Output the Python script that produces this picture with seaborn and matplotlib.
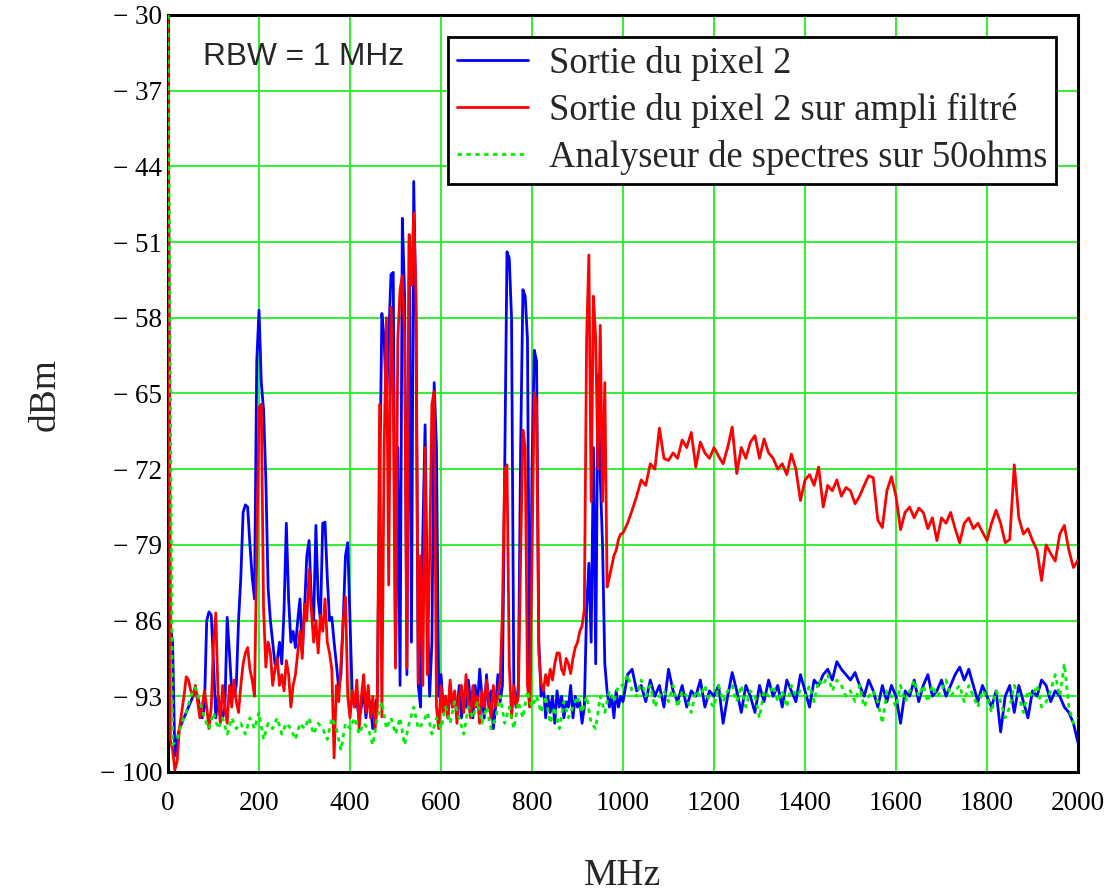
import numpy as np
import pandas as pd
import seaborn as sns
import matplotlib
matplotlib.use("Agg")
import matplotlib.pyplot as plt

# spectra, dBm
# 0..995 MHz in 5 MHz steps
blue_lo = [
    -30, -86.5, -88, -98.5, -97, -96, -95.5, -95, -94.5, -94,
    -93.5, -93, -92.5, -93, -94, -95, -94, -86, -85.2, -85.5,
    -90, -95, -93, -94, -95, -94, -85.7, -89, -92.5, -93,
    -92, -86, -82, -76, -75.3, -75.5, -79, -82, -84, -62,
    -57.3, -64, -66.5, -73, -83, -86, -88, -90, -89.7, -88,
    -90, -85, -77, -84, -88, -87, -88.5, -86, -84, -89,
    -85, -80, -78.6, -84, -86, -77.2, -84, -86, -77, -76.9,
    -82, -86, -85.7, -88, -90, -92.2, -91, -86, -80, -78.8,
    -86, -93.1, -94, -93.5, -95, -94, -92.5, -95, -93, -94,
    -96, -94, -93, -74, -57.6, -60, -66, -60, -54, -53.8,
    -90, -70, -92, -48.8, -56, -91, -50.8, -88, -45.4, -58,
    -92, -94, -78, -67.9, -85, -93, -88, -64, -70, -93,
    -91, -94, -93, -95, -92, -94, -93, -94.5, -92, -95,
    -93, -94, -91.5, -93.5, -95, -92, -94, -90.5, -93, -95,
    -91, -94, -92.5, -96, -94, -91, -93.5, -92, -72, -51.9,
    -52.5, -58, -92, -94, -92, -70, -55.4, -56, -60, -93,
    -72, -61, -62, -88, -93, -92, -95, -93, -94.5, -93,
    -95.5, -92.5, -94, -93, -95, -93.5, -94, -92, -95, -93,
    -94, -93.5, -95.5, -94, -85, -80.7, -88, -70, -90, -63.3,
    -72.7, -79, -90, -92.5, -94, -93, -95, -92.5, -94, -93,
]
red_lo = [
    -30, -97, -98, -99.8, -99, -96, -94.5, -93, -91.2, -91.5,
    -92.5, -93, -92, -93.5, -95, -94, -92.5, -94, -96, -94,
    -88, -85.3, -93, -95.5, -92, -94, -95.5, -92, -94, -91.5,
    -93.5, -94.5, -92, -90, -89, -88.5, -90.5, -91.5, -93, -80,
    -66.3, -66, -85, -90.3, -88, -89, -92, -90.5, -89.5, -92,
    -91, -92.5, -89.7, -91, -94, -92, -91, -89, -87, -89.5,
    -84.5, -86, -81.3, -85, -88, -86, -89, -85.5, -87, -84,
    -88, -89, -90.5, -98.7, -92, -93.5, -90, -86, -83.8, -93,
    -95, -92.5, -94, -91.5, -96, -93, -91, -94.5, -92, -95,
    -93, -96, -94, -66, -94.9, -70, -58, -82.7, -57, -65,
    -90.4, -60, -55.4, -54.1, -60, -90.4, -50.3, -55, -48.3, -56,
    -91.8, -80, -92, -70, -91, -80, -66, -64.8, -94, -96,
    -92, -94.5, -93, -95, -91.5, -94, -92.5, -95.5, -93, -92,
    -94.5, -91, -93.5, -95, -92, -94, -93, -95.5, -92.5, -94,
    -91.5, -93.5, -95, -92, -94, -93, -91.5, -85, -72, -71.6,
    -90, -95, -92, -94, -93, -80, -68.4, -70, -92, -94,
    -80, -64.9, -66, -89, -91.8, -92.5, -91, -92, -90.5, -91.5,
    -90, -89, -89, -90.5, -91, -89.5, -90, -90.9, -89.5, -88.5,
    -88, -87, -86.5, -85, -60, -52.2, -75, -56, -60, -72,
    -58.7, -75, -64, -82.9, -82, -81, -80, -79.5, -78.5, -78,
]
# 1000..2000 MHz in 10 MHz steps
blue_hi = [
    -93.5, -91, -90.5, -92.5, -92, -93.5, -91.5, -93, -92, -94,
    -90.5, -92.5, -93.5, -92, -94, -92.5, -93, -91.5, -94, -92.5,
    -93, -92, -95.5, -93, -90.8, -92.5, -94.5, -92, -93, -94.5,
    -92, -93.5, -91.5, -93, -92, -94, -91.5, -92.5, -93.5, -91,
    -92.5, -94, -91.5, -92, -91, -90.5, -91.5, -89.8, -90.5, -91,
    -91.5, -90.8, -92, -93, -91.5, -92.5, -94, -92, -93.5, -92,
    -93, -95.5, -92.5, -93, -91.5, -93.5, -92, -91, -93, -92.5,
    -91.5, -93, -92, -91, -90.3, -91.5, -90.5, -92, -93.5, -92,
    -93, -94, -92.5, -96.3, -93, -92, -94.5, -92, -93.5, -95,
    -92.5, -93, -91.5, -92, -93.5, -92.5, -93, -94, -94.5, -95.5,
    -97.3,
]
red_hi = [
    -77.9, -77, -75.8, -74.5, -73, -73.5, -71.5, -72, -68.2, -71,
    -71.2, -70.5, -71, -69.3, -70, -68.6, -71.8, -69.5, -70.5, -71,
    -70, -70.8, -71.5, -70, -68.1, -72.4, -70, -71, -69.5, -68.9,
    -71, -69.2, -70.5, -71, -72, -71.5, -72.5, -70.6, -72, -74.9,
    -73, -72.5, -73.5, -71.8, -75.5, -73.5, -74, -73, -74.5, -73.7,
    -74, -75.2, -74.5, -73.5, -72.6, -72.8, -76.7, -77.4, -74, -72.7,
    -74.5, -77.6, -76, -75.5, -76.5, -75.6, -76, -77.5, -76.5, -78.6,
    -76.5, -77, -76, -77.5, -78.8, -77, -76.5, -77.5, -77, -77.8,
    -78.6, -77, -75.8, -77, -78.8, -78.5, -71.6, -76.5, -78, -77.5,
    -78.6, -79.5, -82.3, -79, -79.8, -80.5, -78, -77.2, -79.5, -81.1,
    -80.4,
]
# 0..2000 MHz in 10 MHz steps
green = [
    -30, -97.5, -97, -95.5, -94.5, -93, -92.2, -93.5, -95, -96,
    -94.5, -96, -95, -96.5, -95, -96, -95.5, -96.5, -95, -96,
    -94.5, -97, -95.5, -96, -95, -96.5, -95.5, -96, -97, -95.5,
    -96, -95, -96.5, -95.5, -96, -97, -95, -96, -98, -95.5,
    -96, -95, -96.5, -95.5, -96, -97.5, -95, -93.5, -96, -95,
    -96.5, -95, -97.5, -95.5, -94, -96, -95.5, -94.5, -96.5, -95,
    -96, -94, -95.5, -93.5, -95, -96.5, -94, -95, -93.5, -95.5,
    -94, -96, -95, -93, -95.5, -94, -96, -93.5, -95, -92.5,
    -94, -93, -94.5, -93, -95.5, -94, -96, -93.5, -95, -94,
    -93, -94.5, -93, -95.5, -96, -93, -94.5, -92.5, -93.5, -92,
    -92, -91, -92.5, -93, -91.5, -93, -92, -94, -93, -92.5,
    -93.5, -92, -94, -92.5, -93, -94.5, -92.5, -93, -92, -93.5,
    -94, -92, -93.5, -92.5, -92, -93.5, -92, -94, -92.5, -93,
    -95, -92.5, -93, -92, -93.5, -92.5, -94, -92, -93, -92.5,
    -93, -92, -93.5, -91.5, -92, -91, -92.5, -91.5, -92, -93,
    -92.5, -93.5, -92, -94, -93, -92.5, -93.5, -95.5, -92.5, -93,
    -94, -92, -93.5, -92.5, -91.5, -93, -92, -93.5, -92, -93,
    -92.5, -91.5, -93, -92.5, -92, -93.5, -92, -93, -94, -92.5,
    -93, -94.5, -92.5, -93.5, -95, -94, -92, -93, -94.5, -92.5,
    -93, -92, -94, -93.5, -92.5, -91, -93, -90, -94, -95.5,
    -95,
]

labels = ["Sortie du pixel 2",
          "Sortie du pixel 2 sur ampli filtré",
          "Analyseur de spectres sur 50ohms"]
x_ticks = [0, 200, 400, 600, 800, 1000, 1200, 1400, 1600, 1800, 2000]
y_ticks = [-100, -93, -86, -79, -72, -65, -58, -51, -44, -37, -30]

f_lo = np.arange(len(blue_lo)) * 5
f_hi = 1000 + np.arange(len(blue_hi)) * 10
f_green = np.arange(len(green)) * 10

blue_df = pd.DataFrame({"MHz": np.concatenate([f_lo, f_hi]),
                        "dBm": blue_lo + blue_hi})
red_df = pd.DataFrame({"MHz": np.concatenate([f_lo, f_hi]),
                       "dBm": red_lo + red_hi})
green_df = pd.DataFrame({"MHz": f_green, "dBm": green})

sns.set_style("white")
plt.rcParams["font.family"] = ["Liberation Serif", "DejaVu Serif"]

fig = plt.figure(figsize=(11.15, 8.91), dpi=100)
ax = fig.add_axes([0.1507, 0.1336, 0.8161, 0.8496])

grid_green = "#1ef01e"
for xv in x_ticks[1:-1]:
    ax.axvline(xv, color=grid_green, lw=1.3, zorder=1)
for yv in y_ticks[1:-1]:
    ax.axhline(yv, color=grid_green, lw=1.3, zorder=1)

sns.lineplot(data=blue_df, x="MHz", y="dBm", color="#0000ff", lw=2.0,
             estimator=None, sort=False, ax=ax, label=labels[0], zorder=3)
sns.lineplot(data=red_df, x="MHz", y="dBm", color="#ff0000", lw=2.0,
             estimator=None, sort=False, ax=ax, label=labels[1], zorder=4)
sns.lineplot(data=green_df, x="MHz", y="dBm", color="#00ee00", lw=2.0,
             estimator=None, sort=False, ax=ax, label=labels[2], zorder=5,
             linestyle=(0, (1.6, 1.6)))

ax.set_xlim(0, 2000)
ax.set_ylim(-100, -30)
ax.set_xticks(x_ticks)
ax.set_xticklabels([str(v) for v in x_ticks])
ax.set_yticks(y_ticks)
ax.set_yticklabels(["\u2212 " + str(abs(v)) for v in y_ticks])
ax.tick_params(axis="both", length=0, labelsize=19.5, colors="black")
ax.tick_params(axis="x", pad=14)
ax.tick_params(axis="y", pad=4)
ax.set_xlabel("")
ax.set_ylabel("")
for s in ax.spines.values():
    s.set_color("black")
    s.set_linewidth(2.2)

ax.text(0.0385, 0.944, "RBW = 1 MHz", transform=ax.transAxes,
        family=["Liberation Sans", "DejaVu Sans"], fontsize=22.8,
        va="center", ha="left", zorder=6)

leg = ax.legend(loc="upper right", bbox_to_anchor=(0.976, 0.971),
                borderaxespad=0, fontsize=26.3, handlelength=1.95,
                handletextpad=0.55, labelspacing=0.32, borderpad=0.25,
                fancybox=False, framealpha=1, edgecolor="black")
leg.get_frame().set_linewidth(2.0)
leg.set_zorder(7)

fig.text(0.0405, 0.557, "dBm", rotation=90, fontsize=27,
         ha="center", va="center")
fig.text(0.558, 0.017, "MHz", fontsize=27, ha="center", va="center")

fig.savefig("out.png", dpi=100, facecolor="white")
